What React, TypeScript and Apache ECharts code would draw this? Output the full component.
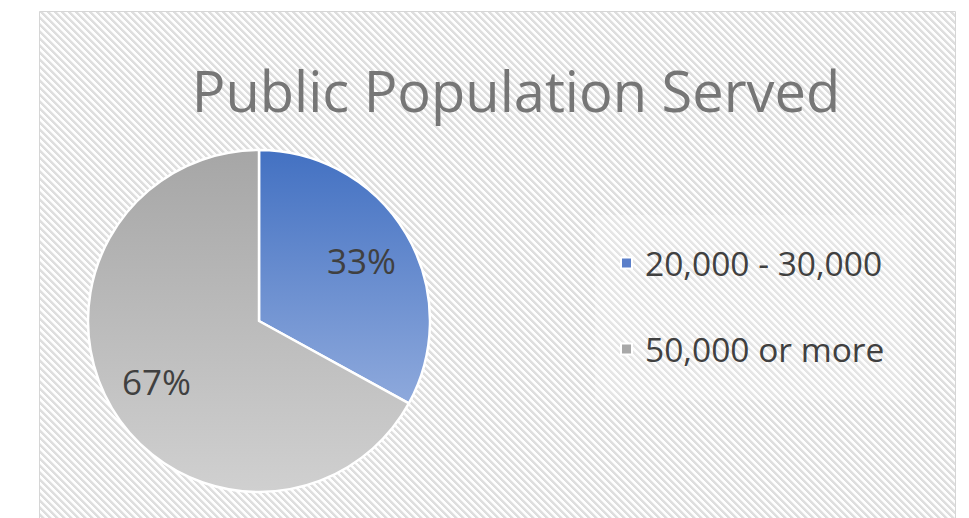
import React, { useEffect, useRef } from "react";
import * as echarts from "echarts";

const titleText = "Public Population Served";
const categories = ["20,000 - 30,000", "50,000 or more"];
const values = [33, 67];
const legendColors = ["#5b7fc9", "#a8a8a8"];

export default function App() {
  const ref = useRef<HTMLDivElement>(null);
  useEffect(() => {
    if (!ref.current) return;
    const chart = echarts.init(ref.current, undefined, { renderer: "svg" });

    // hatch pattern tile
    const P = 7;
    const cv = document.createElement("canvas");
    cv.width = P;
    cv.height = P;
    const ctx = cv.getContext("2d")!;
    const img = ctx.createImageData(P, P);
    for (let y = 0; y < P; y++) {
      for (let x = 0; x < P; x++) {
        const k = (((x - y) % P) + P) % P;
        const v = k < 3 ? 222 : k === 3 ? 240 : 254;
        const i = (y * P + x) * 4;
        img.data[i] = v;
        img.data[i + 1] = v;
        img.data[i + 2] = v;
        img.data[i + 3] = 255;
      }
    }
    ctx.putImageData(img, 0, 0);

    const blueGrad = new echarts.graphic.LinearGradient(0, 0, 0, 1, [
      { offset: 0, color: "#4371c2" },
      { offset: 1, color: "#8ea9dc" },
    ]);
    const grayGrad = new echarts.graphic.LinearGradient(0, 0, 0, 1, [
      { offset: 0, color: "#a6a6a6" },
      { offset: 1, color: "#d0d0d0" },
    ]);
    const fills = [blueGrad, grayGrad];

    const data = categories.map((name, i) => ({
      name,
      value: values[i],
      itemStyle: { color: fills[i] },
    }));

    chart.setOption({
      animation: false,
      backgroundColor: "#ffffff",
      graphic: [
        {
          type: "rect",
          z: -10,
          silent: true,
          shape: { x: 39.5, y: 11.5, width: 916, height: 520 },
          style: {
            fill: { image: cv, repeat: "repeat" },
            stroke: "#d6d6d6",
            lineWidth: 1,
          },
        },
        {
          type: "text",
          x: 516,
          y: 90,
          z: 10,
          style: {
            text: titleText,
            fontFamily: "Open Sans",
            fontSize: 56,
            fill: "#767676",
            textAlign: "center",
            textVerticalAlign: "middle",
          },
        },
      ],
      legend: {
        orient: "vertical",
        left: 595,
        top: 215,
        padding: [28, 27, 31, 25],
        backgroundColor: "rgba(255,255,255,0.22)",
        itemWidth: 11,
        itemHeight: 11,
        itemGap: 46,
        icon: "rect",
        data: categories.map((name, i) => ({
          name,
          itemStyle: { color: legendColors[i] },
        })),
        textStyle: {
          fontFamily: "Open Sans",
          fontSize: 33.5,
          lineHeight: 40,
          color: "#404040",
          padding: [0, 0, 0, 8],
        },
      },
      series: [
        {
          type: "pie",
          center: [259, 321],
          radius: [0, 171],
          startAngle: 90,
          clockwise: true,
          label: { show: false },
          labelLine: { show: false },
          itemStyle: { borderColor: "#ffffff", borderWidth: 2.5 },
          emphasis: { disabled: true },
          data,
        },
        {
          type: "pie",
          center: [259, 321],
          radius: [0, 232],
          startAngle: 90,
          clockwise: true,
          silent: true,
          z: 5,
          itemStyle: { color: "rgba(0,0,0,0)", borderWidth: 0 },
          labelLine: { show: false },
          label: {
            show: true,
            position: "inside",
            fontFamily: "Open Sans",
            fontSize: 35,
            color: "#404040",
            formatter: (p: any) => Math.round(p.percent) + "%",
          },
          emphasis: { disabled: true },
          data: categories.map((name, i) => ({ name, value: values[i] })),
        },
      ],
    });
    return () => chart.dispose();
  }, []);
  return (
    <div
      ref={ref}
      style={{ position: "fixed", left: 0, top: 0, width: 969, height: 518 }}
    />
  );
}
